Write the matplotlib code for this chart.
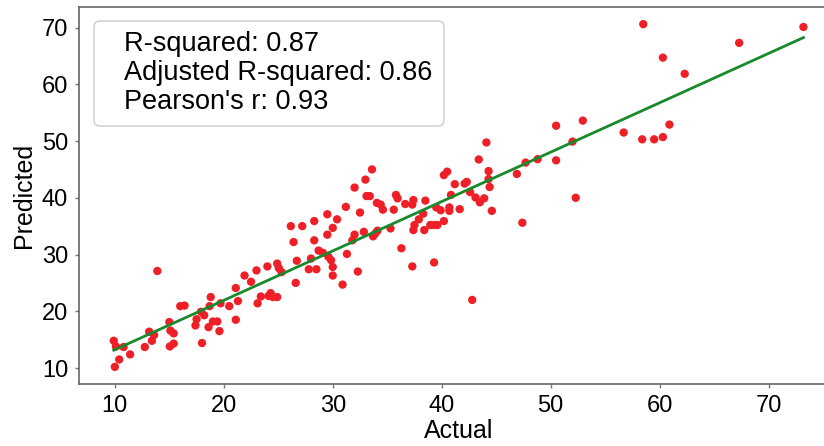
import numpy as np
import matplotlib
matplotlib.use("Agg")
import matplotlib.pyplot as plt
from matplotlib.patches import FancyBboxPatch

plt.rcParams["font.family"] = ["Liberation Sans", "DejaVu Sans"]

# values
actual = [
    9.9, 10.1, 10.0, 10.4, 10.8, 11.4, 12.75, 13.15, 13.4, 13.6,
    13.9, 15.0, 15.1, 15.4, 15.05, 15.4, 16.0, 16.4, 17.4, 17.5,
    17.9, 18.2, 18.0, 18.6, 18.8, 18.7, 19.0, 19.4, 19.6, 19.7,
    20.5, 21.1, 21.3, 21.1, 21.9, 22.5, 23.0, 23.1, 23.4, 24.0,
    24.1, 24.3, 24.5, 24.9, 24.9, 25.05, 25.3,
    26.15, 26.4, 26.6, 26.7, 27.2, 27.8, 28.0, 28.3, 28.3, 28.5,
    28.7, 29.1, 29.5, 29.5, 29.6, 29.85, 30.0, 30.0, 30.0, 30.4,
    30.9, 31.2, 31.3, 31.8, 32.0, 32.0, 32.3, 32.5, 32.85, 33.0,
    33.1, 33.4, 33.6, 33.7, 33.9, 34.1, 34.05, 34.4, 34.6, 35.3,
    35.6, 35.8, 35.95, 36.3, 36.65, 37.3, 37.3, 37.4,
    37.4, 37.5, 37.9, 38.3, 38.4, 38.5, 38.95, 39.3, 39.6, 39.3,
    39.5, 39.9, 40.2, 40.2, 40.5, 40.7, 40.7, 40.85, 41.2, 41.65,
    42.1, 42.3, 42.6, 42.8, 43.1, 43.4, 43.5, 43.9, 44.1, 44.3,
    44.3, 44.4, 44.6,
    46.9, 47.7, 48.8, 47.4, 50.5, 50.5, 52.0, 52.95, 52.3, 56.7,
    58.4, 58.5, 59.5, 60.3, 60.3, 60.9, 62.3, 67.3, 73.2,
]
predicted = [
    14.8, 13.8, 10.2, 11.5, 13.7, 12.4, 13.7, 16.4, 14.8, 15.8,
    27.1, 18.1, 16.6, 16.1, 13.8, 14.3, 20.9, 21.0, 17.5, 18.6,
    19.9, 19.3, 14.4, 17.2, 22.5, 20.9, 18.2, 18.2, 16.5, 21.4,
    20.9, 24.1, 21.8, 18.5, 26.3, 25.2, 27.2, 21.4, 22.6, 27.9,
    22.7, 23.2, 22.5, 22.5, 28.4, 27.6, 26.9,
    35.0, 32.2, 25.0, 28.9, 35.0, 27.4, 29.3, 35.9, 32.5, 27.4,
    30.7, 30.3, 33.5, 37.1, 29.6, 29.0, 27.8, 26.3, 34.7, 36.2,
    24.7, 38.4, 30.1, 32.5, 41.8, 33.5, 27.0, 37.4, 34.0, 43.2,
    40.3, 40.3, 45.0, 33.2, 33.7, 34.2, 39.1, 38.8, 37.9, 34.6,
    37.9, 40.5, 39.9, 31.1, 38.9, 27.9, 38.8, 39.6,
    34.3, 35.2, 36.2, 37.2, 34.3, 39.5, 35.2, 35.2, 35.2, 28.6,
    38.3, 37.8, 35.9, 44.0, 44.6, 38.3, 37.7, 40.5, 42.4, 38.0,
    42.5, 42.8, 41.0, 22.0, 40.05, 46.75, 39.2, 39.9, 49.75, 44.7,
    43.3, 41.9, 37.7,
    44.2, 46.2, 46.8, 35.6, 46.6, 52.7, 49.9, 53.6, 40.0, 51.5,
    50.3, 70.6, 50.3, 50.7, 64.7, 52.9, 61.85, 67.3, 70.1,
]
stats_text = "R-squared: 0.87\nAdjusted R-squared: 0.86\nPearson's r: 0.93"

x = np.array(actual)
y = np.array(predicted)
slope, intercept = np.polyfit(x, y, 1)
x_line = np.array([x.min(), x.max()])

fig = plt.figure(figsize=(8.24, 4.46), dpi=100)
ax = fig.add_axes([0.0962, 0.139, 0.9207, 0.8453])

ax.scatter(x, y, s=36, color="#ee1f26", edgecolors="none", zorder=2)
ax.plot(x_line, slope * x_line + intercept, color="#178a2c", linewidth=2, zorder=3)

ax.set_xlabel("Actual", fontsize=18, labelpad=1)
ax.set_ylabel("Predicted", fontsize=18, labelpad=4)
ax.set_xticks([10, 20, 30, 40, 50, 60, 70])
ax.set_yticks([10, 20, 30, 40, 50, 60, 70])
ax.tick_params(labelsize=17, length=3, width=1, color="#777777", pad=5)

for spine in ax.spines.values():
    spine.set_color("#666666")
    spine.set_linewidth(1.2)

# stats box
box = FancyBboxPatch((0.94, 3.20), 3.50, 1.05,
                     boxstyle="round,pad=0,rounding_size=0.06",
                     transform=fig.dpi_scale_trans,
                     facecolor="white", edgecolor="#cccccc", linewidth=1, zorder=4)
fig.patches.append(box)
fig.text(0.151, 0.93, stats_text, fontsize=19.5, va="top", ha="left",
         linespacing=1.15, zorder=5)

fig.savefig("out.png", dpi=100)
